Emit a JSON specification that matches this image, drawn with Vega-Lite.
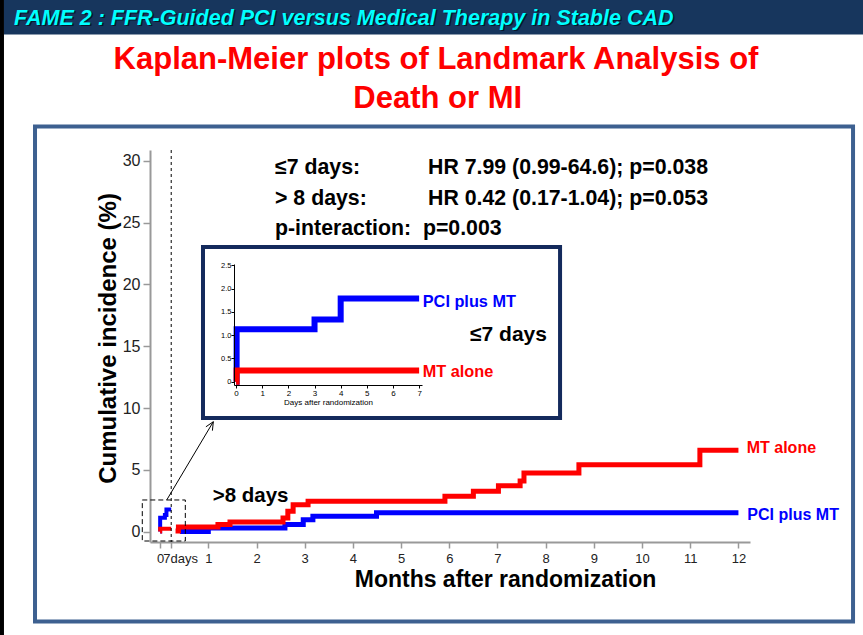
{
  "$schema": "https://vega.github.io/schema/vega-lite/v6.json",
  "width": 600,
  "height": 392,
  "autosize": {"type": "none"},
  "padding": {"left": 150, "top": 150, "right": 113, "bottom": 93},
  "background": "white",
  "config": {"view": {"stroke": null}, "font": "Liberation Sans", "text": {"font": "Liberation Sans"}},
  "datasets": {
    "one": [{}],
    "pci_late": [
      {"series": "PCI plus MT", "month": 0.41, "pct": 0},
      {"series": "PCI plus MT", "month": 1.0, "pct": 0.3},
      {"series": "PCI plus MT", "month": 2.59, "pct": 0.57},
      {"series": "PCI plus MT", "month": 2.97, "pct": 0.97},
      {"series": "PCI plus MT", "month": 3.17, "pct": 1.24},
      {"series": "PCI plus MT", "month": 4.49, "pct": 1.53},
      {"series": "PCI plus MT", "month": 12, "pct": 1.53}
    ],
    "mt_late": [
      {"series": "MT alone", "month": 0.32, "pct": 0.05},
      {"series": "MT alone", "month": 0.38, "pct": 0.38},
      {"series": "MT alone", "month": 1.2, "pct": 0.57},
      {"series": "MT alone", "month": 1.45, "pct": 0.78},
      {"series": "MT alone", "month": 2.55, "pct": 1.1},
      {"series": "MT alone", "month": 2.65, "pct": 1.64},
      {"series": "MT alone", "month": 2.76, "pct": 2.18},
      {"series": "MT alone", "month": 3.07, "pct": 2.45},
      {"series": "MT alone", "month": 5.91, "pct": 2.86},
      {"series": "MT alone", "month": 6.5, "pct": 3.26},
      {"series": "MT alone", "month": 7.02, "pct": 3.72},
      {"series": "MT alone", "month": 7.47, "pct": 4.1},
      {"series": "MT alone", "month": 7.55, "pct": 4.75},
      {"series": "MT alone", "month": 8.69, "pct": 5.42},
      {"series": "MT alone", "month": 11.2, "pct": 6.58},
      {"series": "MT alone", "month": 12, "pct": 6.58}
    ],
    "pci_early": [
      {"series": "PCI plus MT", "day": 0, "month": 0, "pct": 0},
      {"series": "PCI plus MT", "day": 0.02, "month": 0.0007, "pct": 1.13},
      {"series": "PCI plus MT", "day": 3, "month": 0.099, "pct": 1.34},
      {"series": "PCI plus MT", "day": 4, "month": 0.131, "pct": 1.79},
      {"series": "PCI plus MT", "day": 7, "month": 0.23, "pct": 1.79}
    ],
    "mt_early": [
      {"series": "MT alone", "day": 0, "month": 0, "pct": 0},
      {"series": "MT alone", "day": 0.02, "month": 0.0007, "pct": 0.24},
      {"series": "MT alone", "day": 7, "month": 0.23, "pct": 0.24}
    ]
  },
  "layer": [
    {
      "layer": [
        {
          "data": {"name": "pci_late"},
          "mark": {"type": "line", "interpolate": "step-after", "color": "#0000ff", "strokeWidth": 5, "clip": false},
          "encoding": {
            "x": {
              "field": "month", "type": "quantitative",
              "scale": {"domain": [-0.21, 12.24], "nice": false, "zero": false},
              "axis": {
                "title": "Months after randomization",
                "values": [0, 0.23, 1, 2, 3, 4, 5, 6, 7, 8, 9, 10, 11, 12],
                "labelExpr": "datum.value > 0.1 && datum.value < 0.5 ? '7days' : format(datum.value, 'd')",
                "labelOffset": {"condition": {"test": "datum.value > 0.1 && datum.value < 0.5", "value": 9}, "value": 0},
                "labelFontSize": 13, "labelColor": "#222222", "labelPadding": 4,
                "labelFlush": false, "labelOverlap": false,
                "tickSize": 6, "tickColor": "#999999", "tickWidth": 1.5,
                "domainColor": "#999999", "domainWidth": 2, "grid": false,
                "titleFontSize": 23, "titleFontWeight": "bold", "titleColor": "#000000",
                "titleX": 355, "titlePadding": 3
              }
            },
            "y": {
              "field": "pct", "type": "quantitative",
              "scale": {"domain": [-0.84, 30.88], "nice": false, "zero": false},
              "axis": {
                "title": "Cumulative incidence (%)",
                "values": [0, 5, 10, 15, 20, 25, 30],
                "labelFontSize": 16, "labelColor": "#222222", "labelPadding": 3,
                "tickSize": 7, "tickColor": "#999999", "tickWidth": 1.5,
                "domainColor": "#999999", "domainWidth": 2, "grid": false,
                "titleFontSize": 24, "titleFontWeight": "bold", "titleColor": "#000000",
                "titleY": 188, "titlePadding": 2
              }
            }
          }
        },
        {
          "data": {"name": "mt_late"},
          "mark": {"type": "line", "interpolate": "step-after", "color": "#ff0000", "strokeWidth": 5, "clip": false},
          "encoding": {"x": {"field": "month", "type": "quantitative"}, "y": {"field": "pct", "type": "quantitative"}}
        },
        {
          "data": {"name": "pci_early"},
          "mark": {"type": "line", "interpolate": "step-after", "color": "#0000ff", "strokeWidth": 4, "clip": false},
          "encoding": {"x": {"field": "month", "type": "quantitative"}, "y": {"field": "pct", "type": "quantitative"}}
        },
        {
          "data": {"name": "mt_early"},
          "mark": {"type": "line", "interpolate": "step-after", "color": "#ff0000", "strokeWidth": 4, "clip": false},
          "encoding": {"x": {"field": "month", "type": "quantitative"}, "y": {"field": "pct", "type": "quantitative"}}
        },
        {
          "data": {"name": "one"},
          "mark": {"type": "rule", "color": "#000000", "strokeWidth": 1, "strokeDash": [3, 3]},
          "encoding": {"x": {"datum": 0.23}}
        },
        {
          "data": {"name": "one"},
          "mark": {"type": "rect", "fill": null, "fillOpacity": 0, "stroke": "#000000", "strokeWidth": 1, "strokeDash": [5, 3], "clip": false},
          "encoding": {"x": {"datum": -0.37}, "x2": {"datum": 0.523}, "y": {"datum": 2.56}, "y2": {"datum": -0.76}}
        },
        {
          "data": {"name": "one"},
          "mark": {"type": "rule", "color": "#000000", "strokeWidth": 1, "clip": false},
          "encoding": {"x": {"datum": 0.137}, "y": {"datum": 2.56}, "x2": {"datum": 1.104}, "y2": {"datum": 8.893}}
        },
        {
          "data": {"name": "one"},
          "mark": {"type": "rule", "color": "#000000", "strokeWidth": 1, "clip": false},
          "encoding": {"x": {"datum": 0.95}, "y": {"datum": 8.48}, "x2": {"datum": 1.104}, "y2": {"datum": 8.893}}
        },
        {
          "data": {"name": "one"},
          "mark": {"type": "rule", "color": "#000000", "strokeWidth": 1, "clip": false},
          "encoding": {"x": {"datum": 1.085}, "y": {"datum": 8.17}, "x2": {"datum": 1.104}, "y2": {"datum": 8.893}}
        },
        {
          "data": {"name": "one"},
          "mark": {"type": "rect", "fill": "#000000", "clip": false},
          "encoding": {"x": {"datum": -3.323}, "x2": {"datum": -3.24}, "y": {"datum": 43.02}, "y2": {"datum": -8.37}}
        },
        {
          "data": {"name": "one"},
          "mark": {"type": "rect", "fill": "#17365d", "clip": false},
          "encoding": {"x": {"datum": -3.24}, "x2": {"datum": 14.586}, "y": {"datum": 43.02}, "y2": {"datum": 40.226}}
        },
        {
          "data": {"name": "one"},
          "mark": {"type": "rect", "fill": null, "fillOpacity": 0, "stroke": "#3d6090", "strokeWidth": 4, "clip": false},
          "encoding": {"x": {"datum": -2.596}, "x2": {"datum": 14.378}, "y": {"datum": 32.78}, "y2": {"datum": -7.27}}
        },
        {
          "data": {"name": "one"},
          "mark": {"type": "text", "text": "FAME 2 : FFR-Guided PCI versus Medical Therapy in Stable CAD", "color": "#08162b", "dx": 1.5, "dy": 1.5, "fontSize": 21.5, "fontStyle": "italic", "fontWeight": "bold", "align": "left", "baseline": "alphabetic", "clip": false},
          "encoding": {"x": {"datum": -3.032}, "y": {"datum": 40.995}}
        },
        {
          "data": {"name": "one"},
          "mark": {"type": "text", "text": "FAME 2 : FFR-Guided PCI versus Medical Therapy in Stable CAD", "color": "#00ffff", "fontSize": 21.5, "fontStyle": "italic", "fontWeight": "bold", "align": "left", "baseline": "alphabetic", "clip": false},
          "encoding": {"x": {"datum": -3.032}, "y": {"datum": 40.995}}
        },
        {
          "data": {"name": "one"},
          "mark": {"type": "text", "text": "Kaplan-Meier plots of Landmark Analysis of", "color": "#ff0000", "fontSize": 31, "fontWeight": "bold", "align": "center", "baseline": "alphabetic", "clip": false},
          "encoding": {"x": {"datum": 5.725}, "y": {"datum": 37.41}}
        },
        {
          "data": {"name": "one"},
          "mark": {"type": "text", "text": "Death or MI", "color": "#ff0000", "fontSize": 31, "fontWeight": "bold", "align": "center", "baseline": "alphabetic", "clip": false},
          "encoding": {"x": {"datum": 5.76}, "y": {"datum": 34.25}}
        },
        {
          "data": {"name": "one"},
          "mark": {"type": "text", "text": "≤7 days:", "color": "#000000", "fontSize": 21.3, "fontWeight": "bold", "align": "left", "baseline": "alphabetic"},
          "encoding": {"x": {"datum": 2.384}, "y": {"datum": 28.94}}
        },
        {
          "data": {"name": "one"},
          "mark": {"type": "text", "text": "HR 7.99 (0.99-64.6); p=0.038", "color": "#000000", "fontSize": 21.3, "fontWeight": "bold", "align": "left", "baseline": "alphabetic"},
          "encoding": {"x": {"datum": 5.559}, "y": {"datum": 28.94}}
        },
        {
          "data": {"name": "one"},
          "mark": {"type": "text", "text": "> 8 days:", "color": "#000000", "fontSize": 21.3, "fontWeight": "bold", "align": "left", "baseline": "alphabetic"},
          "encoding": {"x": {"datum": 2.384}, "y": {"datum": 26.43}}
        },
        {
          "data": {"name": "one"},
          "mark": {"type": "text", "text": "HR 0.42 (0.17-1.04); p=0.053", "color": "#000000", "fontSize": 21.3, "fontWeight": "bold", "align": "left", "baseline": "alphabetic"},
          "encoding": {"x": {"datum": 5.559}, "y": {"datum": 26.43}}
        },
        {
          "data": {"name": "one"},
          "mark": {"type": "text", "text": "p-interaction:\u00a0 p=0.003", "color": "#000000", "fontSize": 21.3, "fontWeight": "bold", "align": "left", "baseline": "alphabetic"},
          "encoding": {"x": {"datum": 2.384}, "y": {"datum": 24.0}}
        },
        {
          "data": {"name": "one"},
          "mark": {"type": "text", "text": ">8 days", "color": "#000000", "fontSize": 20.5, "fontWeight": "bold", "align": "left", "baseline": "alphabetic"},
          "encoding": {"x": {"datum": 1.091}, "y": {"datum": 2.42}}
        },
        {
          "data": {"name": "one"},
          "mark": {"type": "text", "text": "MT alone", "color": "#ff0000", "fontSize": 16, "fontWeight": "bold", "align": "left", "baseline": "alphabetic", "clip": false},
          "encoding": {"x": {"datum": 12.172}, "y": {"datum": 6.386}}
        },
        {
          "data": {"name": "one"},
          "mark": {"type": "text", "text": "PCI plus MT", "color": "#0000ff", "fontSize": 16, "fontWeight": "bold", "align": "left", "baseline": "alphabetic", "clip": false},
          "encoding": {"x": {"datum": 12.185}, "y": {"datum": 0.94}}
        }
      ]
    },
    {
      "layer": [
        {
          "data": {"name": "one"},
          "mark": {"type": "rect", "fill": "#ffffff", "stroke": "#142a5c", "strokeWidth": 4, "clip": false},
          "encoding": {"x": {"datum": -1.266}, "x2": {"datum": 12.39}, "y": {"datum": 2.895}, "y2": {"datum": -0.779}}
        },
        {
          "data": {"name": "pci_early"},
          "mark": {"type": "line", "interpolate": "step-after", "color": "#0000ff", "strokeWidth": 6, "clip": false},
          "encoding": {
            "x": {
              "field": "day", "type": "quantitative",
              "scale": {"domain": [-0.08, 7.11], "range": [84, 272], "nice": false, "zero": false},
              "axis": {
                "orient": "bottom", "offset": -157, "zindex": 1,
                "title": "Days after randomization", "titleFontSize": 8, "titleFontWeight": "normal", "titleColor": "#000000", "titlePadding": 1,
                "values": [0, 1, 2, 3, 4, 5, 6, 7], "format": "d",
                "labelFontSize": 8, "labelColor": "#000000", "labelPadding": 1, "labelFlush": false, "labelOverlap": false,
                "tickSize": 3, "tickColor": "#000000", "domainColor": "#000000", "domainWidth": 1, "grid": false
              }
            },
            "y": {
              "field": "pct", "type": "quantitative",
              "scale": {"domain": [-0.07, 2.53], "range": [235, 114], "nice": false, "zero": false},
              "axis": {
                "orient": "left", "offset": -84, "zindex": 1, "title": null,
                "values": [0, 0.5, 1, 1.5, 2, 2.5],
                "labelExpr": "datum.value == 0 ? '0' : format(datum.value, '.1f')",
                "labelFontSize": 7.5, "labelColor": "#000000", "labelPadding": 0, "labelFlush": false, "labelOverlap": false,
                "tickSize": 3, "tickColor": "#000000", "domainColor": "#000000", "domainWidth": 1, "grid": false
              }
            }
          }
        },
        {
          "data": {"name": "mt_early"},
          "mark": {"type": "line", "interpolate": "step-after", "color": "#ff0000", "strokeWidth": 6, "clip": false},
          "encoding": {"x": {"field": "day", "type": "quantitative"}, "y": {"field": "pct", "type": "quantitative"}}
        },
        {
          "data": {"name": "one"},
          "mark": {"type": "text", "text": "PCI plus MT", "color": "#0000ff", "fontSize": 16.3, "fontWeight": "bold", "align": "left", "baseline": "alphabetic", "clip": false},
          "encoding": {"x": {"datum": 7.139}, "y": {"datum": 1.612}}
        },
        {
          "data": {"name": "one"},
          "mark": {"type": "text", "text": "MT alone", "color": "#ff0000", "fontSize": 16.3, "fontWeight": "bold", "align": "left", "baseline": "alphabetic", "clip": false},
          "encoding": {"x": {"datum": 7.139}, "y": {"datum": 0.095}}
        },
        {
          "data": {"name": "one"},
          "mark": {"type": "text", "text": "≤7 days", "color": "#000000", "fontSize": 21, "fontWeight": "bold", "align": "left", "baseline": "alphabetic", "clip": false},
          "encoding": {"x": {"datum": 8.948}, "y": {"datum": 0.875}}
        }
      ]
    }
  ],
  "resolve": {
    "scale": {"x": "independent", "y": "independent"},
    "axis": {"x": "independent", "y": "independent"}
  }
}
